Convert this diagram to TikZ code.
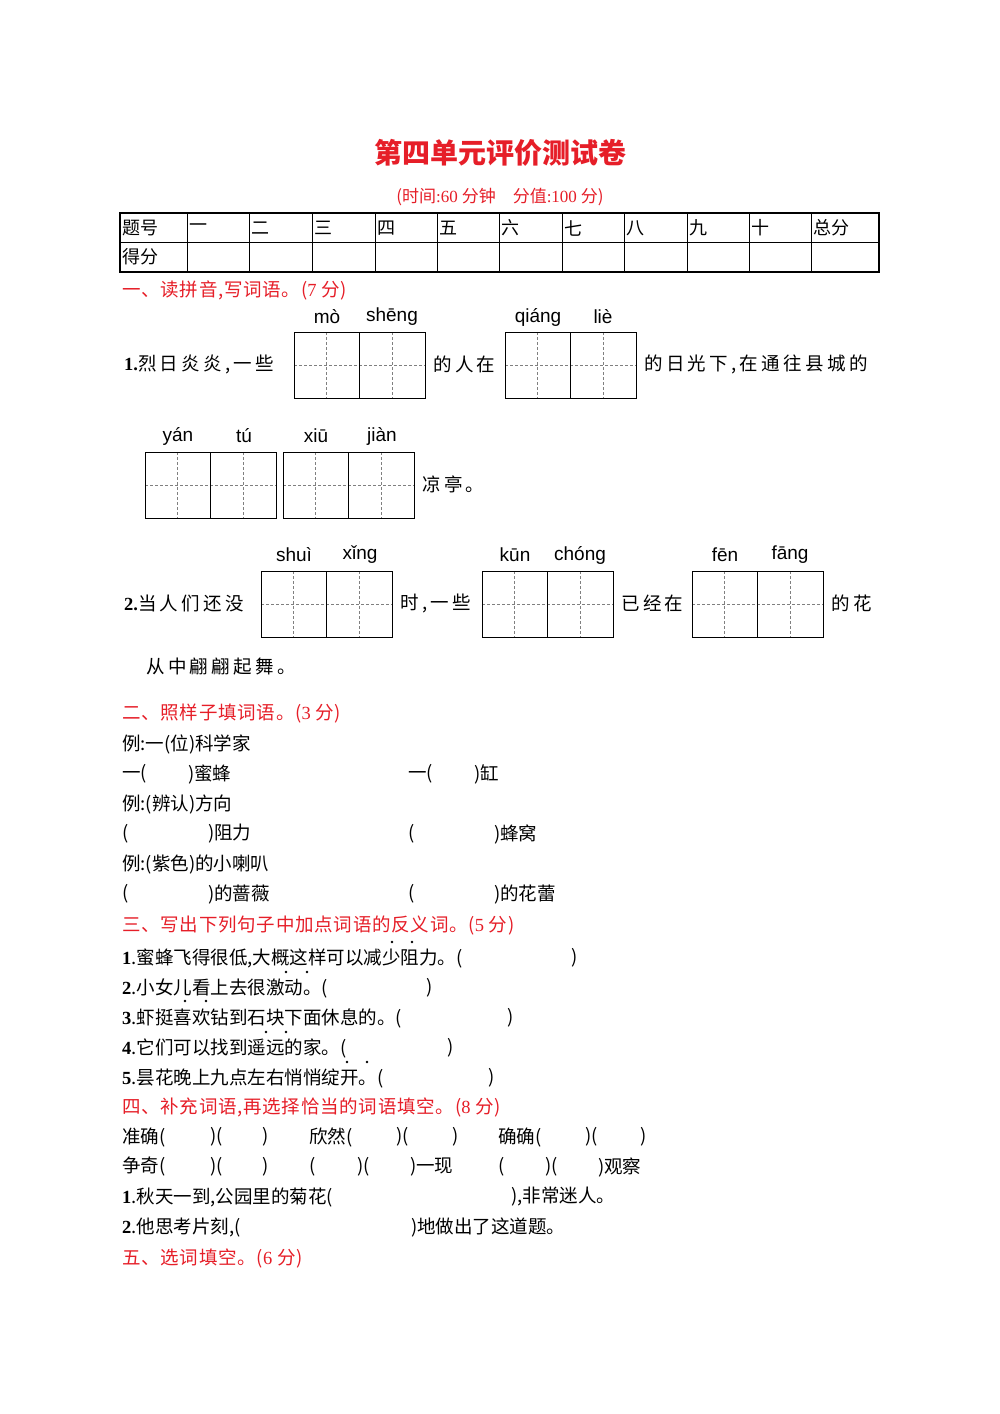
\documentclass[tikz,border=0pt]{standalone}
\usepackage{fontspec}
\setmainfont{Noto Sans CJK SC}
\newfontfamily\py{Liberation Sans}
\newfontfamily\lat{Liberation Serif}
\definecolor{hred}{RGB}{230,30,40}
\newcommand{\tzg}[2]{%
 \draw[gray,densely dashed,line width=0.6pt] (#1,#2+33) -- (#1+131,#2+33);
 \foreach \k in {32.5,98}{\draw[gray,densely dashed,line width=0.6pt] (#1+\k,#2) -- (#1+\k,#2+66);}
 \draw[line width=1pt] (#1,#2) rectangle (#1+131,#2+66);
 \draw[line width=0.8pt] (#1+65.5,#2) -- (#1+65.5,#2+66);}
\begin{document}
\begin{tikzpicture}[x=1pt,y=-1pt,
 t/.style={anchor=west,inner sep=0pt,font=\fontsize{18.5}{20}\selectfont},
 w/.style={anchor=west,inner sep=0pt,font=\addfontfeature{LetterSpace=18}\fontsize{18.5}{20}\selectfont},
 h/.style={t,text=hred,font=\addfontfeature{LetterSpace=4}\fontsize{18.5}{20}\selectfont},
 p/.style={inner sep=0pt,font=\py\fontsize{19}{20}\selectfont},
 c/.style={anchor=west,inner sep=0pt,font=\fontsize{18}{20}\selectfont}]
\useasboundingbox[fill=white] (0,0) rectangle (1000,1414);
\node[inner sep=0pt,text=hred,font=\bfseries\fontsize{28}{30}\selectfont] (title) at (500,153) {第四单元评价测试卷};
\node[inner sep=0pt,text=hred,font=\fontsize{17}{20}\selectfont] (sub) at (500,197) {(时间{\lat :60} 分钟\quad 分值{\lat :100} 分)};
% table
\draw[line width=0.8pt] (120,242) -- (879,242);
\foreach \x in {187,249,312,375,437,499,562,624,687,749,811}{\draw[line width=0.8pt] (\x,213) -- (\x,272);}
\draw[line width=2.5pt] (120,213) rectangle (879,272);
\foreach \x/\s in {122/题号,189/一,251/二,314/三,377/四,439/五,501/六,564/七,626/八,689/九,751/十,813/总分}{\node[c] at (\x,228) {\s};}
\node[c] (df) at (122,257) {得分};
% section 1
\node[h] (s1) at (122,290) {一、读拼音,写词语。({\lat 7} 分)};
\foreach \x/\s in {327/mò,392/shēng,538/qiáng,603/liè}{\node[p] at (\x,317) {\s};}
\foreach \x/\s in {178/yán,244/tú,316/xiū,382/jiàn}{\node[p] at (\x,436) {\s};}
\foreach \x/\s in {294/shuì,360/xǐng,515/kūn,580/chóng,725/fēn,790/fāng}{\node[p] at (\x,555) {\s};}
\tzg{294}{332}\tzg{505}{332}
\tzg{145}{452}\tzg{283}{452}
\tzg{261}{571}\tzg{482}{571}\tzg{692}{571}
\node[w] at (124,364) {{\lat\bfseries 1.}烈日炎炎,一些};
\node[w] at (433,364) {的人在};
\node[w] at (644,364) {的日光下,在通往县城的};
\node[w] at (422,484) {凉亭。};
\node[w] at (124,603) {{\lat\bfseries 2.}当人们还没};
\node[w] at (400,603) {时,一些};
\node[w] at (621,603) {已经在};
\node[w] at (831,603) {的花};
\node[w] at (146,667) {从中翩翩起舞。};
% section 2
\node[h] (s2) at (122,714) {二、照样子填词语。({\lat 3} 分)};
\node[t] at (122,744) {例:一(位)科学家};
\node[t] at (122,774) {一(}; \node[t] at (188,774) {)蜜蜂};
\node[t] at (408,774) {一(}; \node[t] at (474,774) {)缸};
\node[t] at (122,804) {例:(辨认)方向};
\node[t] at (122,834) {(}; \node[t] at (208,834) {)阻力};
\node[t] at (408,834) {(}; \node[t] at (494,834) {)蜂窝};
\node[t] at (122,864) {例:(紫色)的小喇叭};
\node[t] at (122,894) {(}; \node[t] at (208,894) {)的蔷薇};
\node[t] at (408,894) {(}; \node[t] at (494,894) {)的花蕾};
% section 3
\node[h] (s3) at (122,925) {三、写出下列句子中加点词语的反义词。({\lat 5} 分)};
\node[t] at (122,958) {{\lat\bfseries 1}.蜜蜂飞得很低,大概这样可以减少阻力。(}; \node[t] at (571,958) {)};
\node[t] at (122,988) {{\lat\bfseries 2}.小女儿看上去很激动。(}; \node[t] at (426,988) {)};
\node[t] at (122,1018) {{\lat\bfseries 3}.虾挺喜欢钻到石块下面休息的。(}; \node[t] at (507,1018) {)};
\node[t] at (122,1048) {{\lat\bfseries 4}.它们可以找到遥远的家。(}; \node[t] at (447,1048) {)};
\node[t] at (122,1078) {{\lat\bfseries 5}.昙花晚上九点左右悄悄绽开。(}; \node[t] at (488,1078) {)};
\foreach \x/\y in {392/942,412/942,286/972,307/972,185/1001,206/1001,266/1032,286/1032,347/1062,367/1062}{\fill (\x,\y) circle (1.4);}
% section 4
\node[h] (s4) at (122,1107) {四、补充词语,再选择恰当的词语填空。({\lat 8} 分)};
\node[t] at (122,1137) {准确(}; \node[t] at (210,1137) {)(}; \node[t] at (262,1137) {)};
\node[t] at (309,1137) {欣然(}; \node[t] at (396,1137) {)(}; \node[t] at (452,1137) {)};
\node[t] at (498,1137) {确确(}; \node[t] at (585,1137) {)(}; \node[t] at (640,1137) {)};
\node[t] at (122,1167) {争奇(}; \node[t] at (210,1167) {)(}; \node[t] at (262,1167) {)};
\node[t] at (309,1167) {(}; \node[t] at (357,1167) {)(}; \node[t] at (410,1167) {)一现};
\node[t] at (498,1167) {(}; \node[t] at (545,1167) {)(}; \node[t] at (598,1167) {)观察};
\node[t] at (122,1197) {{\lat\bfseries 1}.秋天一到,公园里的菊花(}; \node[t] at (511,1197) {),非常迷人。};
\node[t] at (122,1227) {{\lat\bfseries 2}.他思考片刻,(}; \node[t] at (411,1227) {)地做出了这道题。};
\node[h] (s5) at (122,1258) {五、选词填空。({\lat 6} 分)};
\end{tikzpicture}
\end{document}
